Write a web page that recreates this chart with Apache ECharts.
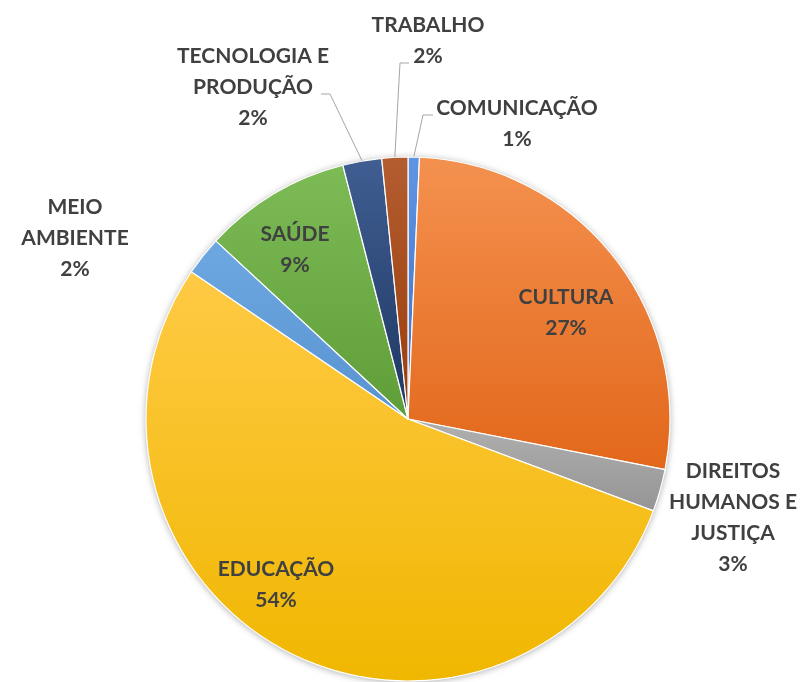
<!DOCTYPE html>
<html><head><meta charset="utf-8">
<script src="https://cdn.jsdelivr.net/npm/echarts@6/dist/echarts.min.js"></script>
<style>html,body{margin:0;padding:0;background:#fff}#chart{width:805px;height:682px}</style>
</head><body><div id="chart"></div>
<script>
// ---- data ----
const categories = ['COMUNICAÇÃO', 'CULTURA', 'DIREITOS HUMANOS E JUSTIÇA', 'EDUCAÇÃO', 'MEIO AMBIENTE', 'SAÚDE', 'TECNOLOGIA E PRODUÇÃO', 'TRABALHO'];
const labelNames = ['COMUNICAÇÃO', 'CULTURA', 'DIREITOS\nHUMANOS E\nJUSTIÇA', 'EDUCAÇÃO', 'MEIO\nAMBIENTE', 'SAÚDE', 'TECNOLOGIA E\nPRODUÇÃO', 'TRABALHO'];
const shares = [0.7, 27.4, 2.6, 53.8, 2.4, 9.1, 2.4, 1.6];

// ---- styles ----
const colorTop =    ['#6095E4', '#F4914F', '#B0B0B0', '#FFCA45', '#6EA8E2', '#7CBB56', '#405E92', '#B45D30'];
const colorBottom = ['#3E6EC4', '#E2671A', '#959595', '#F0B700', '#5893D0', '#5E9D37', '#1E3762', '#983C0B'];
const inside = [false, true, false, true, false, true, false, false];
const showLine = [true, false, false, false, false, false, true, true];
const labelPlace = [
  {x: 517, y: 124, line: [[423, 115], [433, 115]]},
  {x: 566, y: 313},
  {x: 733, y: 518},
  {x: 276, y: 585},
  {x: 75, y: 238},
  {x: 295, y: 250},
  {x: 253, y: 87, line: [[330, 94], [321, 94]]},
  {x: 428, y: 41, line: [[400, 63], [409, 63]]}
];
const CENTER = [408, 419];
const R = 262;

const chart = echarts.init(document.getElementById('chart'), null, {renderer: 'canvas'});

const seriesData = categories.map((name, i) => ({
  name: name,
  value: shares[i],
  itemStyle: {
    color: new echarts.graphic.LinearGradient(0, 0, 0, 1, [
      {offset: 0, color: colorTop[i]},
      {offset: 1, color: colorBottom[i]}
    ])
  },
  label: {position: inside[i] ? 'inside' : 'outside'},
  labelLine: {show: showLine[i]}
}));

chart.setOption({
  backgroundColor: '#ffffff',
  animation: false,
  series: [
    {
      type: 'pie',
      silent: true,
      center: CENTER,
      radius: R,
      z: 1,
      label: {show: false},
      labelLine: {show: false},
      itemStyle: {color: '#ffffff', shadowBlur: 7, shadowColor: 'rgba(0,0,0,0.35)', shadowOffsetY: 1},
      data: [{value: 1}]
    },
    {
      type: 'pie',
      z: 2,
      center: CENTER,
      radius: R,
      startAngle: 90,
      clockwise: true,
      avoidLabelOverlap: false,
      percentPrecision: 0,
      itemStyle: {borderColor: '#ffffff', borderWidth: 1.2},
      label: {
        show: true,
        fontFamily: 'Lato',
        fontWeight: 'bold',
        fontSize: 21,
        lineHeight: 31,
        color: '#404040',
        align: 'center',
        formatter: p => labelNames[p.dataIndex] + '\n' + p.percent + '%'
      },
      labelLine: {
        length: 20, length2: 10,
        lineStyle: {color: '#A6A6A6', width: 1}
      },
      labelLayout: function (p) {
        const s = labelPlace[p.dataIndex];
        const r = {x: s.x, y: s.y, align: 'center', verticalAlign: 'middle'};
        if (s.line && p.labelLinePoints) {
          r.labelLinePoints = [p.labelLinePoints[0], s.line[0], s.line[1]];
        }
        return r;
      },
      emphasis: {disabled: true},
      data: seriesData
    }
  ]
});
</script>
</body></html>
